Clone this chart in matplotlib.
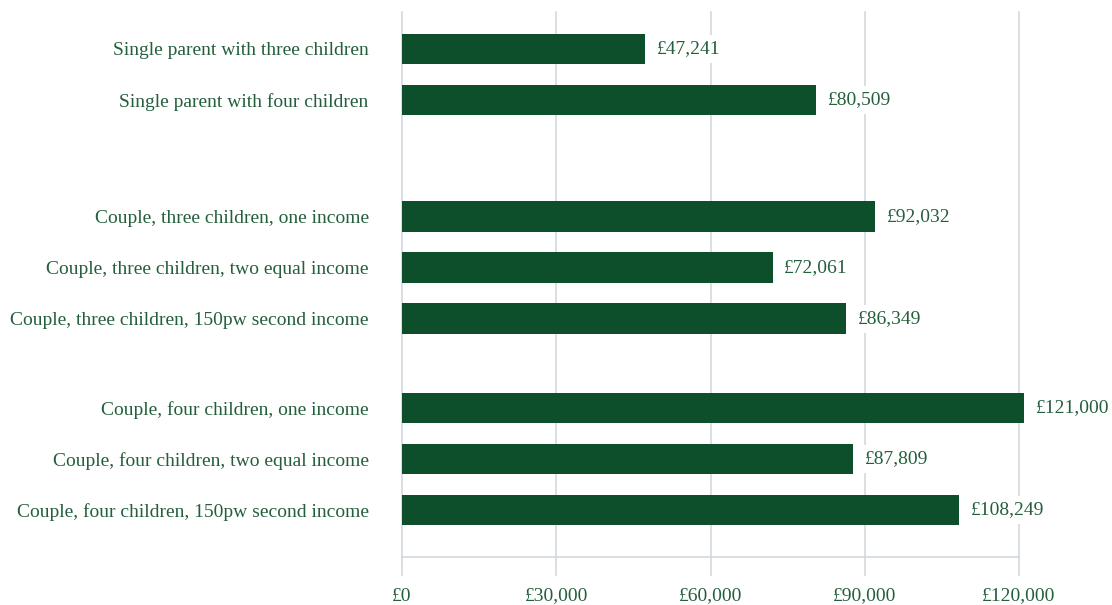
import matplotlib.pyplot as plt
import matplotlib

matplotlib.rcParams['font.family'] = 'Liberation Serif'

# household types and the income figure for each
households = [
    "Single parent with three children",
    "Single parent with four children",
    "Couple, three children, one income",
    "Couple, three children, two equal income",
    "Couple, three children, 150pw second income",
    "Couple, four children, one income",
    "Couple, four children, two equal income",
    "Couple, four children, 150pw second income",
]
incomes = [47241, 80509, 92032, 72061, 86349, 121000, 87809, 108249]
group_sizes = [2, 3, 3]
x_ticks = [0, 30000, 60000, 90000, 120000]

bar_col = '#0d4f2a'
text_col = '#245f3c'
grid_col = '#d3d9de'

# row positions: one unit per bar, extra space between the groups
gaps = [0, 1.29, 0.75]
ypos = []
y = 0
for g, n in enumerate(group_sizes):
    y += gaps[g]
    for i in range(n):
        ypos.append(y)
        y += 1

fig = plt.figure(figsize=(11.12, 6.05), dpi=100)
ax = fig.add_axes([402/1112, 1-557/605, (1019-402)/1112, (557-12)/605])

ax.barh(ypos, incomes, height=0.6, color=bar_col, zorder=2, clip_on=False)
ax.set_xlim(0, 120000)
ax.set_ylim(9.96, -0.725)

for t in x_ticks:
    ax.axvline(t, ymin=-18/545, ymax=1, color=grid_col, lw=1.2, zorder=1, clip_on=False)

for yy, v in zip(ypos, incomes):
    ax.text(v + 2300, yy, f"£{v:,}", va='center', ha='left', fontsize=14,
            color=text_col, zorder=3,
            bbox=dict(facecolor='white', edgecolor='none', pad=4))

ax.set_yticks(ypos)
ax.set_yticklabels(households, fontsize=14, color=text_col)
ax.tick_params(axis='y', length=0, pad=24)

ax.set_xticks(x_ticks)
ax.set_xticklabels([f"£{t:,}" for t in x_ticks], fontsize=14, color=text_col)
ax.tick_params(axis='x', length=0, pad=22)

for s in ['top', 'right', 'left']:
    ax.spines[s].set_visible(False)
ax.spines['bottom'].set_color(grid_col)
ax.spines['bottom'].set_linewidth(1.2)

plt.savefig("out.png", facecolor='w', edgecolor='w')
